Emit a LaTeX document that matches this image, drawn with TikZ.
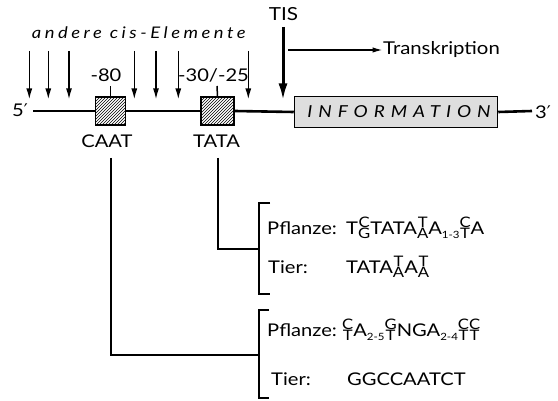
\documentclass[tikz,border=0pt]{standalone}
\usepackage{fontspec}
\setmainfont{Lato}[FakeStretch=1.15]
\newfontfamily\djv{DejaVu Sans}
\newfontfamily\lsitA{Lato Italic}[LetterSpace=22,FakeStretch=1.15]
\newfontfamily\lsitB{Lato Italic}[LetterSpace=36,FakeStretch=1.15]
\usetikzlibrary{patterns,arrows.meta}
\newcommand\stk[2]{\mbox{\ooalign{\hfil\raisebox{7pt}{\fontsize{14.5}{14.5}\selectfont#1}\hfil\cr\hfil\raisebox{-3.6pt}{\fontsize{14.5}{14.5}\selectfont#2}\hfil\cr}}}
\newcommand\subs[1]{\raisebox{-4pt}{\fontsize{10}{10}\selectfont#1}}
\newcommand\prm{{\djv\char"2032}}
\tikzset{
  dna/.style={line width=2.6pt},
  conn/.style={line width=1.5pt},
  cisarrow/.style={line width=1.5pt,-{Latex[length=11pt,width=6pt]}},
  tisarrow/.style={line width=3pt,-{Latex[length=17pt,width=9pt]}},
  thinarrow/.style={line width=1.4pt,-{Latex[length=10pt,width=5.5pt]}},
  boxbase/.style={draw,line width=1.5pt,inner sep=0pt},
  hatchbox/.style={boxbase,pattern=north east lines,minimum height=28pt},
  infobox/.style={boxbase,fill=black!13,minimum width=203pt,minimum height=31pt},
  lbl/.style={inner sep=0pt,font=\fontsize{17.5}{17.5}\selectfont},
  rowtxt/.style={inner sep=0pt,font=\fontsize{17.5}{17.5}\selectfont},
}
\begin{document}
\begin{tikzpicture}[x=1pt,y=-1pt]
\useasboundingbox (0,0) rectangle (558,401);
% title
\node[inner sep=0pt,anchor=base west,font=\fontsize{16}{16}\lsitA] (cis) at (31.7,39) {andere cis-Elemente};
% boxes
\node[hatchbox,minimum width=30pt] (caat) at (110.5,111) {};
\node[hatchbox,minimum width=33pt] (tata) at (217.5,111) {};
\node[infobox] (info) at (396,112) {\hspace*{6pt}\fontsize{16.5}{16.5}\lsitB INFORMATION};
% ends
\node[lbl,anchor=base] (five) at (20,117) {5\prm};
\node[lbl,anchor=base] (three) at (543,119) {3\prm};
\coordinate (l0) at (33,111);
\coordinate (l1) at (532,111);
\draw[dna] (l0) -- (caat.west);
\draw[dna] (caat.east) -- (tata.west);
\draw[dna] (tata.east) -- (info.west);
\draw[dna] (info.east) -- (l1);
% ticks and labels
\coordinate (t80) at (110.5,86);
\coordinate (t30) at (217,86);
\draw[conn] (caat.north) -- (t80);
\draw[conn] (tata.north) -- (t30);
\node[lbl,anchor=base] (m80) at (106,82) {-80};
\node[lbl,anchor=base] (m30) at (213.5,82) {-30/-25};
\node[lbl,anchor=base] (caatl) at (107,148) {CAAT};
\node[lbl,anchor=base] (tatal) at (216.5,148) {TATA};
% cis arrows
\foreach \i/\x in {1/29.3,2/48.3,3/69,4/134.3,5/156,6/178.3,7/248.3}{
  \coordinate (a\i) at (\x,51);
  \coordinate (b\i) at (\x,99.5);
  \draw[cisarrow] (a\i) -- (b\i);
}
% TIS
\node[inner sep=0pt,anchor=base,font=\fontsize{18}{18}\selectfont] (tis) at (283.5,20.7) {TIS};
\coordinate (tistop) at (283,27);
\coordinate (tistip) at (283,100.5);
\draw[tisarrow] (tistop) -- (tistip);
\node[inner sep=0pt,anchor=base west,font=\fontsize{17.7}{17.7}\selectfont] (trans) at (383,55) {Transkription};
\coordinate (trs) at (288,50);
\coordinate (tre) at (382.5,50);
\draw[thinarrow] (trs) -- (tre);
% connectors
\coordinate (c1) at (111,158);
\coordinate (c2) at (218,158);
\coordinate (j1) at (259,249);
\coordinate (j2) at (259,355);
\draw[conn] (c2) |- (j1);
\draw[conn] (c1) |- (j2);
% brackets
\coordinate (b1a) at (270,203);
\coordinate (b1b) at (259,203);
\coordinate (b1c) at (259,294);
\coordinate (b1d) at (270,294);
\draw[conn] (b1a) -- (b1b) -- (b1c) -- (b1d);
\coordinate (b2a) at (269,310);
\coordinate (b2b) at (259,310);
\coordinate (b2c) at (259,398);
\coordinate (b2d) at (269,398);
\draw[conn] (b2a) -- (b2b) -- (b2c) -- (b2d);
% rows
\node[rowtxt,anchor=base west] (p1) at (267,235) {Pflanze:};
\node[rowtxt,anchor=base west] (s1) at (346,235) {T\stk{C}{G}TATA\stk{T}{A}A\subs{1-3}\stk{C}{T}A};
\node[rowtxt,anchor=base west] (t1) at (268,274) {Tier:};
\node[rowtxt,anchor=base west] (s2) at (346,274) {TATA\stk{T}{A}A\stk{T}{A}};
\node[rowtxt,anchor=base west] (p2) at (267,337) {Pflanze:};
\node[rowtxt,anchor=base west] (s3) at (342,337) {\stk{C}{T}A\subs{2-5}\stk{G}{T}NGA\subs{2-4}\stk{C}{T}\stk{C}{T}};
\node[rowtxt,anchor=base west] (t2) at (271,385) {Tier:};
\node[rowtxt,anchor=base west] (s4) at (347,385) {GGCCAATCT};
\end{tikzpicture}
\end{document}
